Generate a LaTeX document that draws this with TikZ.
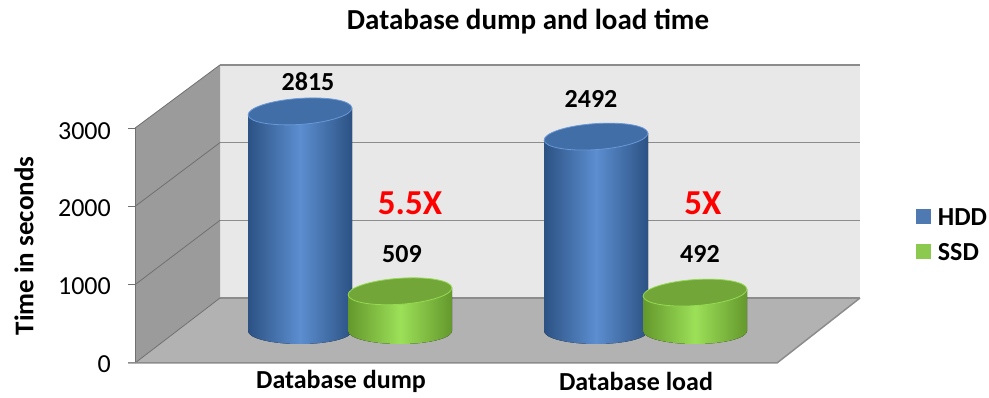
\documentclass[tikz,border=0pt]{standalone}
\usepackage{fontspec}
\setmainfont{Carlito}
\usepackage{tikz}
\usetikzlibrary{positioning}
\tikzstyle{chart} = [x = 1pt, y = -1pt]
\definecolor{backWallColor}{RGB}{232,232,232}
\definecolor{sideWallColor}{RGB}{155,155,155}
\definecolor{floorColor}{RGB}{178,178,178}
\definecolor{gridColor}{RGB}{140,140,140}
\definecolor{hddDark}{RGB}{44,82,132}
\definecolor{hddLight}{RGB}{92,142,208}
\definecolor{hddTop}{RGB}{66,110,168}
\definecolor{hddRim}{RGB}{104,152,214}
\definecolor{ssdDark}{RGB}{100,152,44}
\definecolor{ssdLight}{RGB}{156,224,88}
\definecolor{ssdTop}{RGB}{114,166,56}
\definecolor{ssdRim}{RGB}{150,218,84}
\tikzstyle{gridLine} = [color=gridColor, line width=1.5pt]
\tikzstyle{sideLine} = [color=gridColor!80!black, line width=.8pt]
\tikzstyle{tickText} = [font=\fontsize{26}{31}\selectfont, anchor=east, inner sep=0pt]
\tikzstyle{valueText} = [font=\fontsize{26}{31}\selectfont\bfseries, inner sep=0pt]
\tikzstyle{titleText} = [font=\fontsize{29}{35}\selectfont\bfseries, inner sep=0pt]
\tikzstyle{ratioText} = [font=\fontsize{35}{42}\selectfont\bfseries, text=red, inner sep=0pt]
\tikzstyle{legendBox} = [minimum size=15pt, inner sep=0pt]
% depth of the plot: front edge, back edge, value scales
\newcommand{\frontY}{363}
\newcommand{\backY}{298}
\newcommand{\frontX}{135}
\newcommand{\backX}{220}
\newcommand{\frontStep}{78.3}
\newcommand{\backStep}{77.7}
% cylinders
\newcommand{\barBase}{331}
\newcommand{\barScale}{.078}
\newcommand{\barRadius}{52}
\newcommand{\barDepth}{13}
\newcommand{\tilt}{3.6}
\newcommand{\cylinderBar}[3]{
  \pgfmathsetmacro{\barTop}{\barBase - #2 * \barScale}
  \fill [left color=#3Dark, right color=#3Dark, middle color=#3Light] (#1 - \barRadius, \barTop + \tilt) -- (#1 - \barRadius, \barBase) arc [start angle=180, end angle=0, x radius=\barRadius, y radius=\barDepth] -- (#1 + \barRadius, \barTop - \tilt) -- cycle;
  \filldraw [fill=#3Top, draw=#3Rim, thick] (#1, \barTop) ellipse [x radius=\barRadius, y radius=\barDepth, rotate=4];
}

\begin{document}
\begin{tikzpicture}[chart]
  \useasboundingbox (0,0) rectangle (989,398);
  % walls and floor
  \fill [backWallColor] (\backX,65) rectangle (860,\backY);
  \fill [sideWallColor] (\frontX,\frontY) -- (\frontX,128) -- (\backX,65) -- (\backX,\backY) -- cycle;
  \fill [floorColor] (\frontX,\frontY) -- (777,\frontY) -- (860,\backY) -- (\backX,\backY) -- cycle;
  \foreach \level in {1,...,3} {
    \pgfmathsetmacro{\frontLevel}{\frontY - \level * \frontStep}
    \pgfmathsetmacro{\backLevel}{\backY - \level * \backStep}
    \draw [gridLine] (\backX, \backLevel) -- (860, \backLevel);
    \draw [sideLine] (\frontX, \frontLevel) -- (\backX, \backLevel);
    \draw [sideLine] (128, \frontLevel) -- (\frontX, \frontLevel);
  }
  \draw [gridLine] (\backX, \backY) -- (860, \backY);
  \draw [sideLine] (\frontX, \frontY) -- (\backX, \backY);
  \draw [sideLine] (\frontX, 128) -- (\frontX, \frontY);
  \draw [gridLine] (128, \frontY) -- (777, \frontY) -- (860, \backY);

  % axis labels
  \node [tickText] (tick0) at (111, \frontY + 1) {0};
  \node [tickText] (tick1) at (111, 286) {1000};
  \node [tickText] (tick2) at (111, 208) {2000};
  \node [tickText] (tick3) at (111, 131) {3000};
  \node [valueText, font=\fontsize{27}{32}\selectfont\bfseries, rotate=90] (axisTitle) at (24, 246) {Time in seconds};
  \node [titleText] (title) at (528, 22) {Database dump and load time};
  \node [valueText] (dumpLabel) at (341, 381) {Database dump};
  \node [valueText] (loadLabel) at (636, 381) {Database load};

  % bars
  \cylinderBar{300}{2815}{hdd}
  \cylinderBar{400}{509}{ssd}
  \cylinderBar{596}{2492}{hdd}
  \cylinderBar{695}{492}{ssd}

  \node [valueText] (dumpHdd) at (308, 82) {2815};
  \node [valueText] (dumpSsd) at (402, 254) {509};
  \node [valueText] (loadHdd) at (591, 99) {2492};
  \node [valueText] (loadSsd) at (700, 254) {492};
  \node [ratioText] (dumpRatio) at (410, 203) {5.5X};
  \node [ratioText] (loadRatio) at (703, 203) {5X};

  % legend
  \node [legendBox, fill=hddLight!85!black] (hddKey) at (923, 217) {};
  \node [valueText, right=7pt of hddKey] (hddName) {HDD};
  \node [legendBox, fill=ssdLight!90!black] (ssdKey) at (923, 252) {};
  \node [valueText, right=7pt of ssdKey] (ssdName) {SSD};
\end{tikzpicture}
\end{document}
